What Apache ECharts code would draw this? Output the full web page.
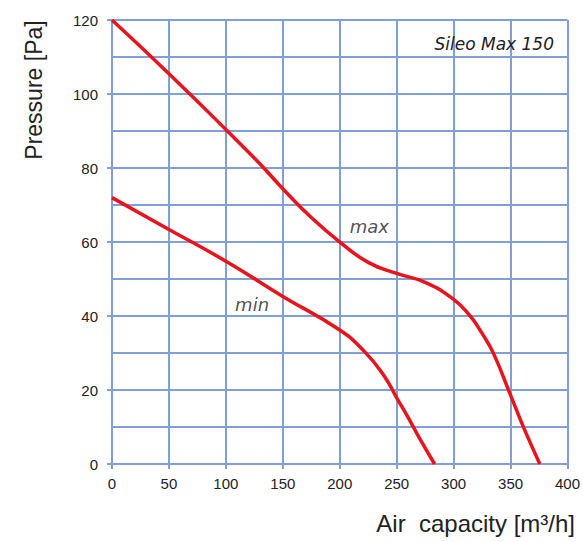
<!DOCTYPE html>
<html>
<head>
<meta charset="utf-8">
<script src="https://cdn.jsdelivr.net/npm/echarts@6/dist/echarts.min.js"></script>
<style>
html,body{margin:0;padding:0;background:#fff;}
#chart{width:583px;height:542px;}
</style>
</head>
<body>
<div id="chart"></div>
<script>
var maxX = [0, 50, 100, 130, 150, 175, 200, 225, 250, 275, 300, 315, 325, 335, 350, 362, 375.7];
var maxY = [120, 105.5, 90.4, 81.1, 74.4, 66.6, 60, 54.5, 51.5, 49.1, 44.5, 39.8, 35.3, 29.9, 18.6, 9.5, 0];
var minX = [0, 50, 100, 150, 200, 222, 239, 250, 260, 270, 283.3];
var minY = [72, 63.4, 54.8, 45.3, 36.2, 30.3, 23.8, 17.9, 12.6, 7, 0];
var xTicks = [0, 50, 100, 150, 200, 250, 300, 350, 400];
var yTicks = [0, 20, 40, 60, 80, 100, 120];
var title = 'Sileo Max 150';
var xName = 'Air  capacity [m\u00b3/h]';
var yName = 'Pressure [Pa]';
var curveLabels = [['max', 226, 64.2], ['min', 123, 43.2]];

function pairs(xs, ys) { return xs.map(function (x, i) { return [x, ys[i]]; }); }

var gridColor = '#7f9fd6';
var textFont = 'Liberation Sans, Arial, sans-serif';
var chart = echarts.init(document.getElementById('chart'), null, {renderer: 'svg'});

chart.setOption({
  animation: false,
  backgroundColor: '#fff',
  title: {
    text: title, right: 24, top: 30,
    textStyle: {fontFamily: 'DejaVu Sans', fontStyle: 'italic', fontWeight: 'normal', fontSize: 17, color: '#222'}
  },
  grid: {left: 112, right: 11, top: 20, bottom: 78, containLabel: false},
  xAxis: {
    type: 'value', min: xTicks[0], max: xTicks[xTicks.length - 1], interval: 50,
    axisLine: {show: true, lineStyle: {color: gridColor, width: 2}},
    axisTick: {show: true, length: 5, lineStyle: {color: gridColor, width: 2}},
    axisLabel: {margin: 12, fontFamily: textFont, fontSize: 15, color: '#222'},
    splitLine: {show: true, lineStyle: {color: gridColor, width: 2}}
  },
  yAxis: {
    type: 'value', min: yTicks[0], max: yTicks[yTicks.length - 1], interval: 20,
    axisLine: {show: true, lineStyle: {color: gridColor, width: 2}},
    axisTick: {show: true, length: 5, lineStyle: {color: gridColor, width: 2}},
    axisLabel: {margin: 14, fontFamily: textFont, fontSize: 15, color: '#222'},
    splitLine: {show: true, lineStyle: {color: gridColor, width: 2}},
    minorTick: {show: false, splitNumber: 2},
    minorSplitLine: {show: true, lineStyle: {color: gridColor, width: 2}}
  },
  graphic: [
    {type: 'text', x: 34, y: 90, rotation: Math.PI / 2,
      style: {text: yName, font: '23px ' + textFont, fill: '#222', align: 'center', verticalAlign: 'middle'}},
    {type: 'text', right: 8, top: 511,
      style: {text: xName, font: '24px ' + textFont, fill: '#222'}}
  ],
  series: [
    {type: 'line', data: pairs(maxX, maxY), smooth: 0.5, symbol: 'none',
      lineStyle: {color: '#e8141c', width: 3.5}},
    {type: 'line', data: pairs(minX, minY), smooth: 0.5, symbol: 'none',
      lineStyle: {color: '#e8141c', width: 3.5}},
    {type: 'scatter', symbol: 'circle', symbolSize: 1, silent: true,
      itemStyle: {color: 'rgba(0,0,0,0)'},
      data: curveLabels.map(function (l) { return {value: [l[1], l[2]], name: l[0]}; }),
      label: {show: true, position: 'inside', formatter: '{b}',
        fontFamily: 'DejaVu Sans', fontStyle: 'italic', fontSize: 18, color: '#222'}}
  ]
});
</script>
</body>
</html>
